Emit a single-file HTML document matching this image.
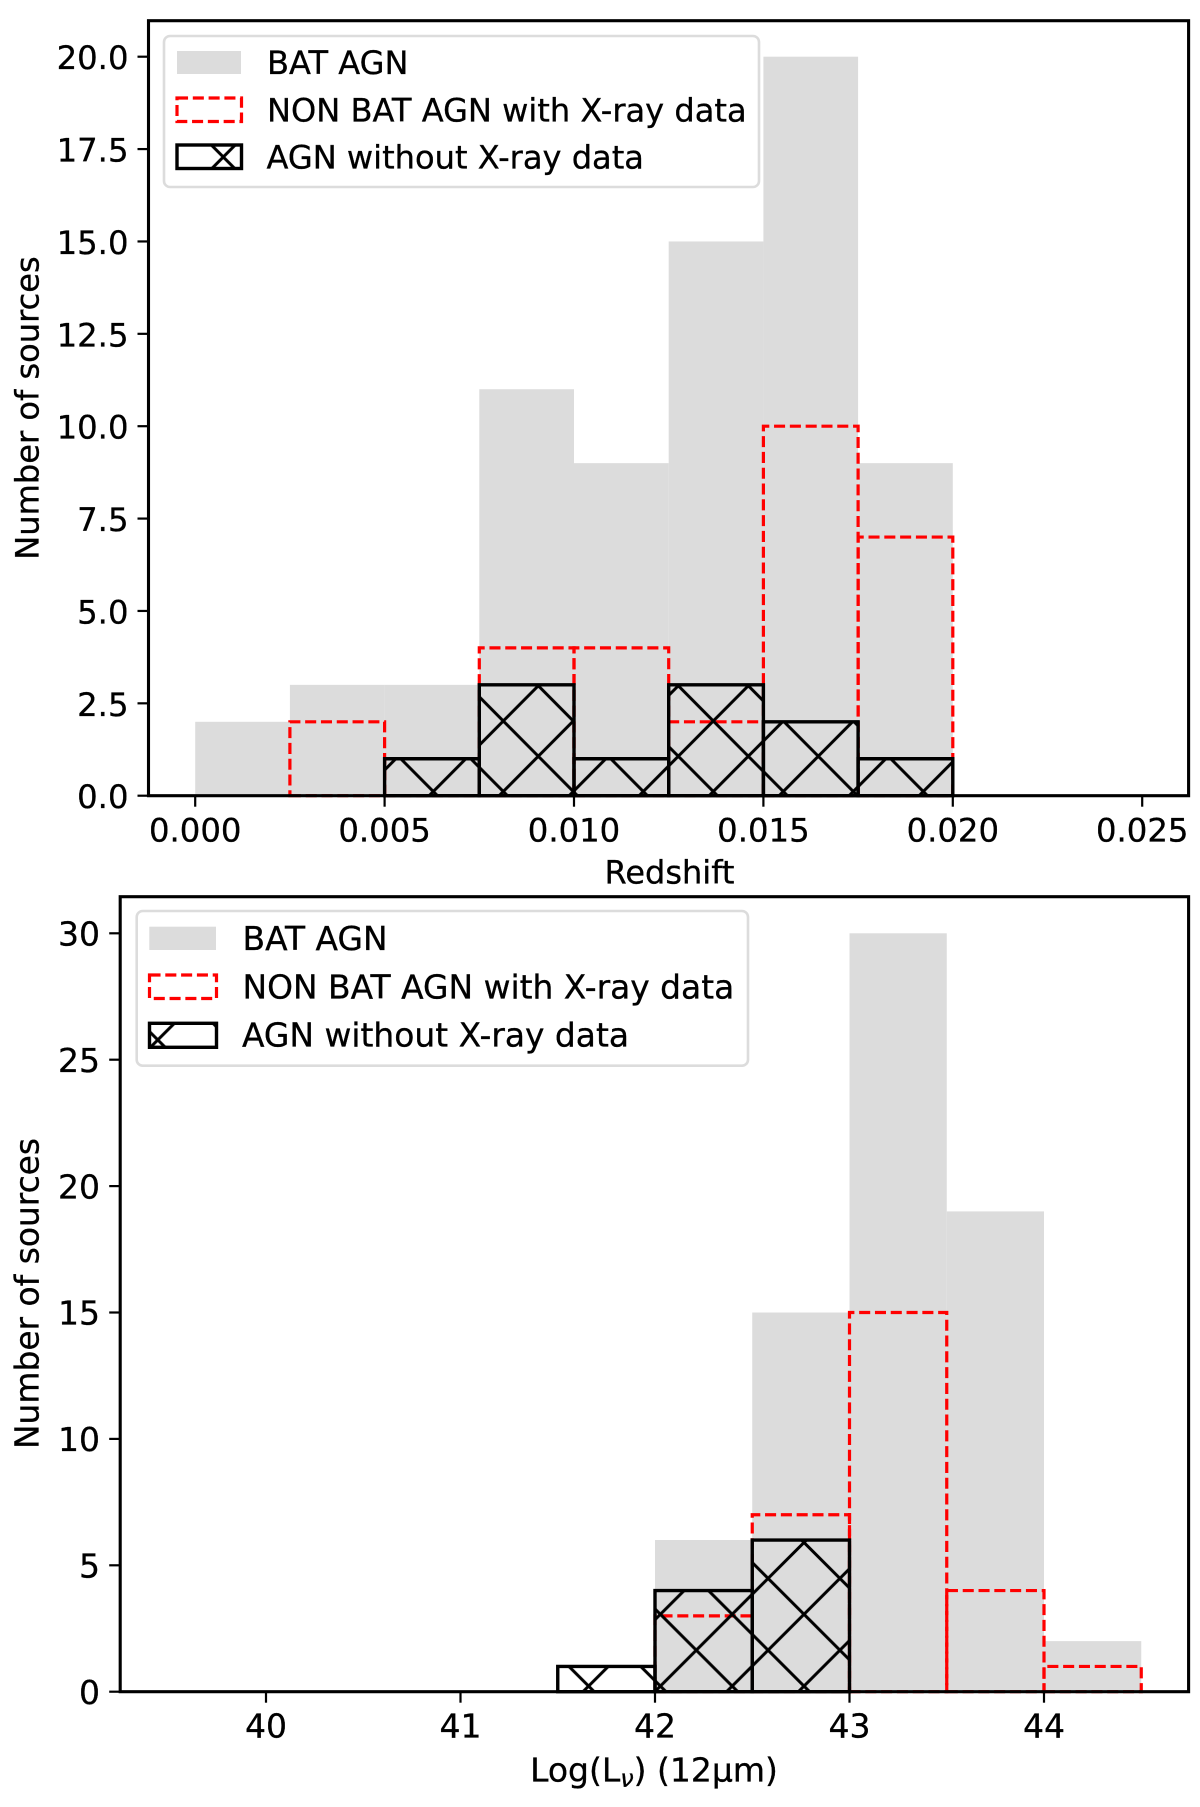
<!DOCTYPE html>
<html lang="en">
<head>
<meta charset="utf-8">
<title>BAT AGN histograms</title>
<style>
html,body{margin:0;padding:0;background:#fff;}
svg{display:block;}
text{font-family:"DejaVu Sans","Liberation Sans",sans-serif;fill:#000;stroke:#000;stroke-width:.3px;}
</style>
</head>
<body>
<svg id="fig" xmlns="http://www.w3.org/2000/svg" width="1200" height="1807" viewBox="0 0 1200 1807">
  <defs>
    <pattern id="hatchTop" patternUnits="userSpaceOnUse" x="13.3" y="16" width="70" height="70.5">
      <path d="M0 0L70 70.5M70 0L0 70.5" stroke="#000" stroke-width="3" fill="none"/>
    </pattern>
    <pattern id="hatchBot" patternUnits="userSpaceOnUse" x="14.2" y="1614.3" width="71.8" height="71.8">
      <path d="M0 0L71.8 71.8M71.8 0L0 71.8" stroke="#000" stroke-width="3" fill="none"/>
    </pattern>
  </defs>
  <rect width="1200" height="1807" fill="#fff"/>
  <g id="topPanel"></g>
  <g id="botPanel"></g>

  <g>
    <rect x="164" y="36" width="595" height="151" rx="6" fill="#fff" fill-opacity="0.8" stroke="#dcdcdc" stroke-width="2.6"/>
    <rect x="177" y="51" width="64" height="23" fill="#dcdcdc"/>
    <text x="267" y="74" font-size="32.1">BAT AGN</text>
    <rect x="177" y="98" width="64.5" height="23.5" fill="none" stroke="#f00" stroke-width="3.2" stroke-dasharray="11.05 4.75"/>
    <text x="267" y="121.3" font-size="32.1">NON BAT AGN with X-ray data</text>
    <rect x="177" y="145" width="64.5" height="23.5" fill="url(#hatchTop)" stroke="#000" stroke-width="3.4"/>
    <text x="266.5" y="168.3" font-size="32.1">AGN without X-ray data</text>
  </g>

  <g>
    <rect x="136.7" y="911" width="611.3" height="154.7" rx="6" fill="#fff" fill-opacity="0.8" stroke="#dcdcdc" stroke-width="2.6"/>
    <rect x="149.3" y="926.7" width="66.7" height="23.3" fill="#dcdcdc"/>
    <text x="242.5" y="950" font-size="32.9">BAT AGN</text>
    <rect x="149.5" y="975" width="67" height="23.5" fill="none" stroke="#f00" stroke-width="3.2" stroke-dasharray="11.05 4.75"/>
    <text x="242.5" y="998.3" font-size="32.9">NON BAT AGN with X-ray data</text>
    <rect x="149.5" y="1023.3" width="67" height="24" fill="url(#hatchBot)" stroke="#000" stroke-width="3.4"/>
    <text x="242" y="1046.7" font-size="32.9">AGN without X-ray data</text>
  </g>

  <text x="669.5" y="883.3" font-size="32" text-anchor="middle">Redshift</text>
  <text transform="translate(38.5,408) rotate(-90)" font-size="32.1" text-anchor="middle">Number of sources</text>
  <text x="654" y="1781.7" font-size="33" text-anchor="middle">Log(L<tspan font-size="24" font-style="italic" dy="5">ν</tspan><tspan dy="-5">) (12μm)</tspan></text>
  <text transform="translate(38.5,1293.5) rotate(-90)" font-size="32.9" text-anchor="middle">Number of sources</text>
</svg>
<script>
// Redshift panel data
const topBinEdges = [0, 0.0025, 0.005, 0.0075, 0.01, 0.0125, 0.015, 0.0175, 0.02];
const topBatCounts = [2, 3, 3, 11, 9, 15, 20, 9];
const topNonBatCounts = [0, 2, 1, 4, 4, 2, 10, 7];
const topNoXrayCounts = [0, 0, 1, 3, 1, 3, 2, 1];
const topXTicks = [0, 0.005, 0.01, 0.015, 0.02, 0.025];
const topXTickLabels = ['0.000', '0.005', '0.010', '0.015', '0.020', '0.025'];
const topYTicks = [0, 2.5, 5, 7.5, 10, 12.5, 15, 17.5, 20];
const topYTickLabels = ['0.0', '2.5', '5.0', '7.5', '10.0', '12.5', '15.0', '17.5', '20.0'];

// Luminosity panel data
const botBinEdges = [41.5, 42, 42.5, 43, 43.5, 44, 44.5];
const botBatCounts = [0, 6, 15, 30, 19, 2];
const botNonBatCounts = [0, 3, 7, 15, 4, 1];
const botNoXrayCounts = [1, 4, 6, 0, 0, 0];
const botXTicks = [40, 41, 42, 43, 44];
const botXTickLabels = ['40', '41', '42', '43', '44'];
const botYTicks = [0, 5, 10, 15, 20, 25, 30];
const botYTickLabels = ['0', '5', '10', '15', '20', '25', '30'];

const NS = 'http://www.w3.org/2000/svg';
function mk(tag, attrs, parent) {
  const e = document.createElementNS(NS, tag);
  for (const k in attrs) e.setAttribute(k, attrs[k]);
  parent.appendChild(e);
  return e;
}
function barPath(x0, x1, y0, y1) {
  return 'M' + x0 + ' ' + y0 + 'L' + x1 + ' ' + y0 + 'L' + x1 + ' ' + y1 + 'L' + x0 + ' ' + y1 + 'Z';
}
function drawPanel(opts) {
  const g = opts.group, X = opts.x, Y = opts.y, b = opts.box, y0 = Y(0);
  opts.bat.forEach(function (v, i) {
    if (!v) return;
    const r = mk('rect', {x: X(opts.edges[i]), y: Y(v), width: X(opts.edges[i + 1]) - X(opts.edges[i]), height: y0 - Y(v), fill: '#dcdcdc'}, g);
    
    
  });
  opts.nonBat.forEach(function (v, i) {
    if (!v) return;
    const r = mk('path', {d: barPath(X(opts.edges[i]), X(opts.edges[i + 1]), y0, Y(v)), fill: 'none', stroke: '#f00', 'stroke-width': 3.2, 'stroke-dasharray': '11.05 4.75'}, g);
    
    
  });
  opts.noXray.forEach(function (v, i) {
    if (!v) return;
    const r = mk('path', {d: barPath(X(opts.edges[i]), X(opts.edges[i + 1]), y0, Y(v)), fill: 'url(#' + opts.hatch + ')', stroke: '#000', 'stroke-width': 3.4}, g);
    
    
  });
  opts.xTicks.forEach(function (v, i) {
    const t = mk('line', {x1: X(v), x2: X(v), y1: y0, y2: y0 + 11, stroke: '#000', 'stroke-width': 2.2}, g);
    
    
    const l = mk('text', {x: X(v), y: opts.xLabelY, 'text-anchor': 'middle', 'font-size': opts.tickFont}, g);
    l.textContent = opts.xLabels[i];
    
    
  });
  opts.yTicks.forEach(function (v, i) {
    const t = mk('line', {x1: b.left - 11, x2: b.left, y1: Y(v), y2: Y(v), stroke: '#000', 'stroke-width': 2.2}, g);
    
    
    const l = mk('text', {x: opts.yLabelX, y: Y(v) + opts.yLabelDy, 'text-anchor': 'end', 'font-size': opts.tickFont}, g);
    l.textContent = opts.yLabels[i];
    
    
  });
  const frame = mk('rect', {x: b.left, y: b.top, width: b.right - b.left, height: b.bottom - b.top, fill: 'none', stroke: '#000', 'stroke-width': 3.1}, g);
  
  
}
function topX(v) { return 195.2 + v * 37880; }
function topY(v) { return 795.7 - v * 36.95; }
function botX(v) { return 266 + (v - 40) * 194.5; }
function botY(v) { return 1691.7 - v * 25.28; }

drawPanel({
  group: document.getElementById('topPanel'), x: topX, y: topY,
  box: {left: 148.5, right: 1188.6, top: 20.7, bottom: 795.7},
  edges: topBinEdges, bat: topBatCounts, nonBat: topNonBatCounts, noXray: topNoXrayCounts,
  xTicks: topXTicks, xLabels: topXTickLabels, yTicks: topYTicks, yLabels: topYTickLabels,
  hatch: 'hatchTop', tickFont: 32.3, xLabelY: 841.7, yLabelX: 128.5, yLabelDy: 12.5
});
drawPanel({
  group: document.getElementById('botPanel'), x: botX, y: botY,
  box: {left: 120.2, right: 1188.6, top: 896.7, bottom: 1691.7},
  edges: botBinEdges, bat: botBatCounts, nonBat: botNonBatCounts, noXray: botNoXrayCounts,
  xTicks: botXTicks, xLabels: botXTickLabels, yTicks: botYTicks, yLabels: botYTickLabels,
  hatch: 'hatchBot', tickFont: 33, xLabelY: 1737.7, yLabelX: 100, yLabelDy: 12.2
});
</script>
</body>
</html>
